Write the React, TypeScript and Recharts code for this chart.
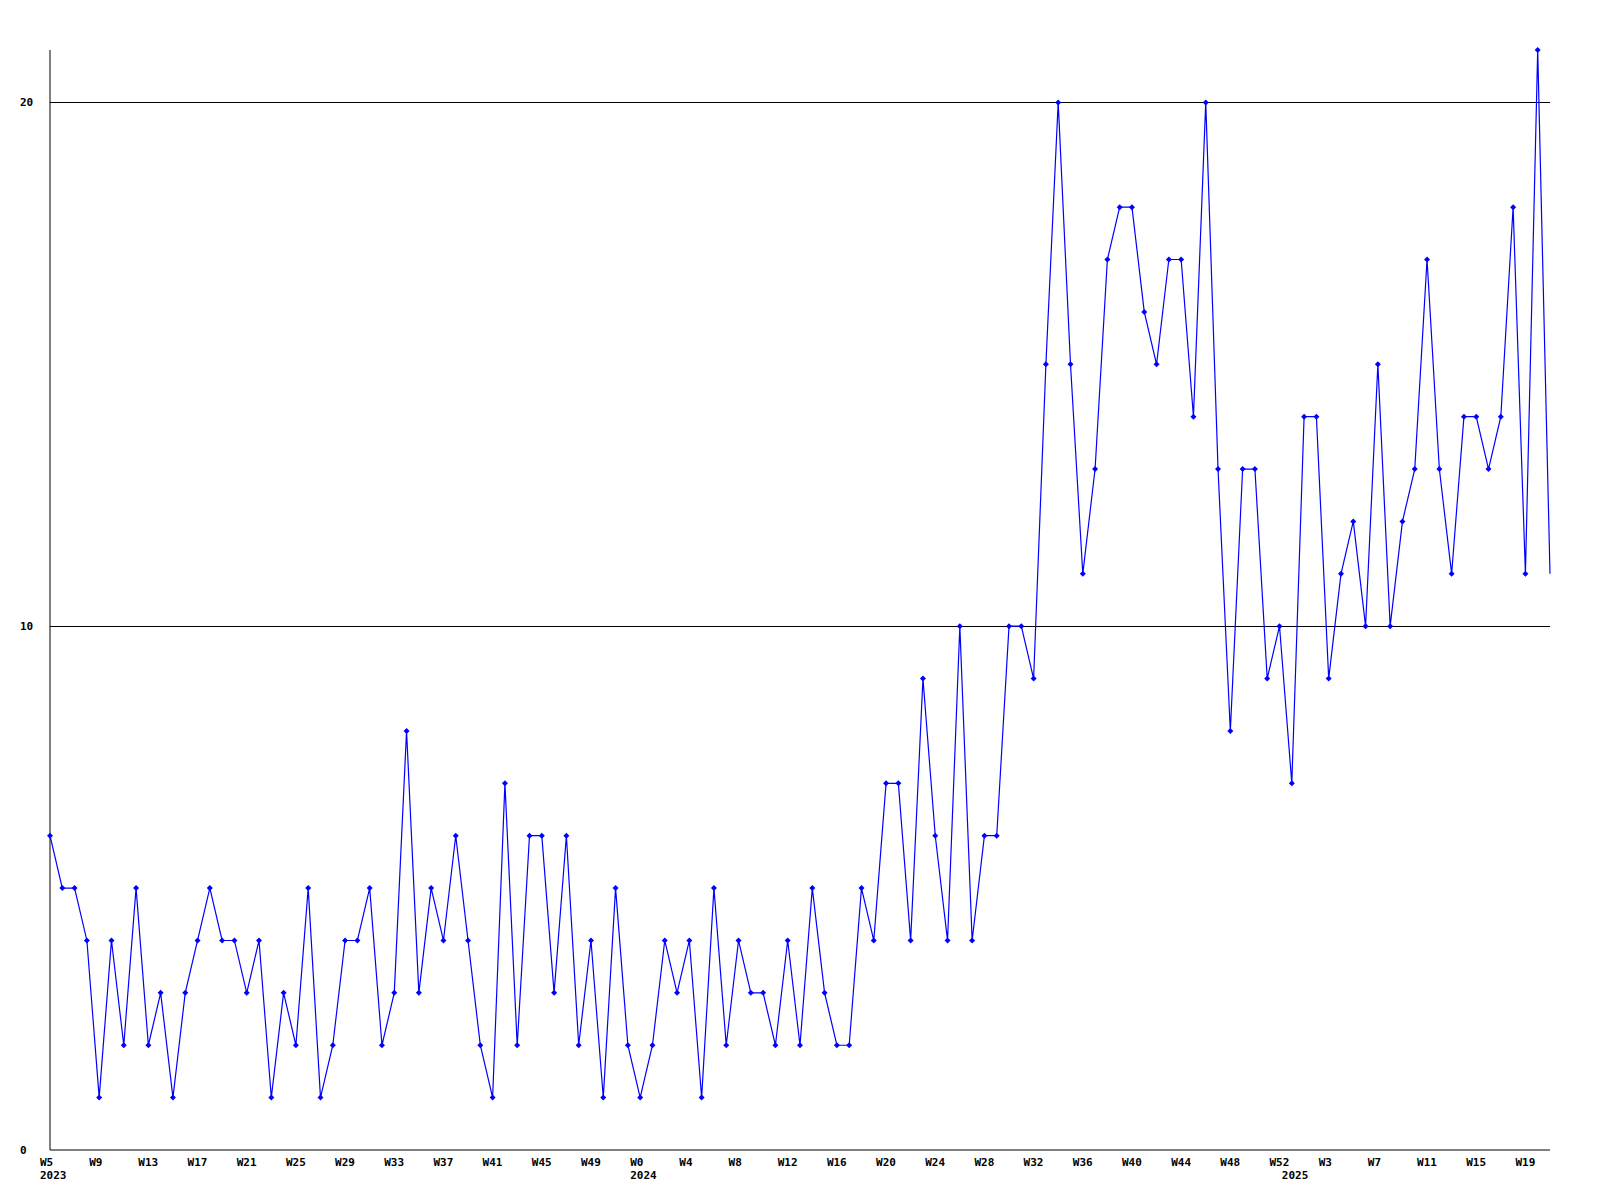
import { LineChart, Line, XAxis, YAxis, ReferenceLine } from "recharts";

// weekly counts
const years = ["2023", "2024", "2025"];
const firstWeek = [5, 0, 0];
const lastWeek = [52, 52, 21];

const counts = [
  6, 5, 5, 4, 1, 4, 2, 5, 2, 3,
  1, 3, 4, 5, 4, 4, 3, 4, 1, 3,
  2, 5, 1, 2, 4, 4, 5, 2, 3, 8,
  3, 5, 4, 6, 4, 2, 1, 7, 2, 6,
  6, 3, 6, 2, 4, 1, 5, 2, 1, 2,
  4, 3, 4, 1, 5, 2, 4, 3, 3, 2,
  4, 2, 5, 3, 2, 2, 5, 4, 7, 7,
  4, 9, 6, 4, 10, 4, 6, 6, 10, 10,
  9, 15, 20, 15, 11, 13, 17, 18, 18, 16,
  15, 17, 17, 14, 20, 13, 8, 13, 13, 9,
  10, 7, 14, 14, 9, 11, 12, 10, 15, 10,
  12, 13, 17, 13, 11, 14, 14, 13, 14, 18,
  11, 21, 11,
];

const yTicks = [0, 10, 20];
const gridValues = [10, 20];

const weeks: { week: string; year: string; first: boolean }[] = [];
years.forEach((yr, k) => {
  for (let w = firstWeek[k]; w <= lastWeek[k]; w++) {
    weeks.push({ week: `W${w}`, year: yr, first: w === firstWeek[k] });
  }
});

const data = counts.map((v, i) => ({ idx: i, value: v }));
const xTicks = data.map((d) => d.idx);

const FONT = "'DejaVu Sans Mono', monospace";

const WeekTick = (props: any) => {
  const { x, y, payload } = props;
  const i = payload.value;
  const wk = weeks[i];
  if (!wk) return null;
  return (
    <g>
      {i % 4 === 0 ? (
        <text x={x - 10} y={y + 16} fontFamily={FONT} fontSize={11} fontWeight="bold" fill="#000">
          {wk.week}
        </text>
      ) : null}
      {wk.first ? (
        <text x={x - 10} y={y + 29} fontFamily={FONT} fontSize={11} fontWeight="bold" fill="#000">
          {wk.year}
        </text>
      ) : null}
    </g>
  );
};

const CountTick = (props: any) => {
  const { y, payload } = props;
  return (
    <text x={20} y={y + 4} fontFamily={FONT} fontSize={11} fontWeight="bold" fill="#000">
      {payload.value}
    </text>
  );
};

const Marker = (props: any) => {
  const { cx, cy, index } = props;
  if (index === counts.length - 1) return null;
  return (
    <path
      key={index}
      d={`M${cx},${cy - 3} L${cx + 3},${cy} L${cx},${cy + 3} L${cx - 3},${cy} Z`}
      fill="#0000ff"
      stroke="none"
    />
  );
};

export default function App() {
  return (
    <div style={{ position: "absolute", left: 0, top: 0, background: "#fff" }}>
      <LineChart
        width={1600}
        height={1200}
        data={data}
        margin={{ top: 50, right: 50, left: 20, bottom: 0 }}
      >
        <XAxis
          dataKey="idx"
          type="number"
          domain={[0, counts.length - 1]}
          ticks={xTicks}
          interval={0}
          tick={<WeekTick />}
          tickLine={false}
          tickSize={0}
          tickMargin={0}
          height={50}
          axisLine={{ stroke: "#000" }}
          allowDecimals={false}
        />
        <YAxis
          domain={[0, 21]}
          ticks={yTicks}
          tick={<CountTick />}
          tickLine={false}
          width={30}
          axisLine={{ stroke: "#000" }}
        />
        {gridValues.map((g) => (
          <ReferenceLine key={g} y={g} stroke="#000" shapeRendering="crispEdges" />
        ))}
        <Line
          type="linear"
          dataKey="value"
          stroke="#0000ff"
          strokeWidth={1.2}
          dot={<Marker />}
          activeDot={false}
          isAnimationActive={false}
        />
      </LineChart>
    </div>
  );
}
